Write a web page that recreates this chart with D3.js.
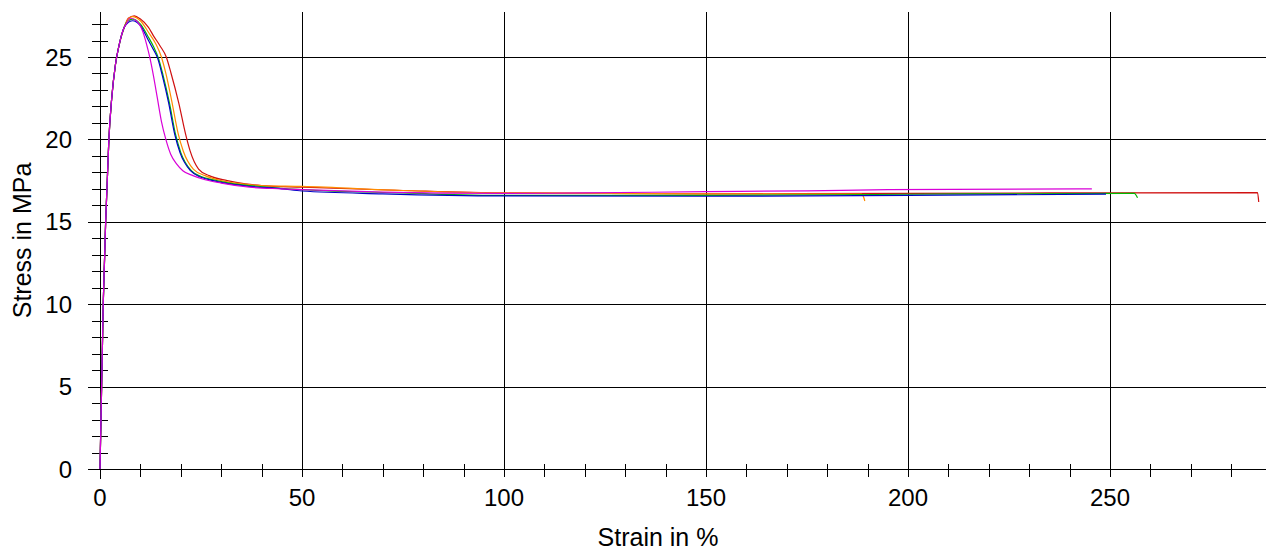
<!DOCTYPE html>
<html>
<head>
<meta charset="utf-8">
<script src="https://cdnjs.cloudflare.com/ajax/libs/d3/7.8.5/d3.min.js"></script>
<style>
  body { margin: 0; background: #fff; }
  text { font-family: Arial, "Liberation Sans", sans-serif; fill: #000; }
</style>
</head>
<body>
<div id="chart"></div>
<script>
// tick labels
var xTicks = [0, 50, 100, 150, 200, 250];
var yTicks = [0, 5, 10, 15, 20, 25];

// common initial rise (strain %, stress MPa)
var riseStrain = [0, 0.2, 0.4, 0.6, 0.8, 1.1, 1.4, 1.8, 2.2, 2.9, 3.8, 4.8, 6];
var riseStress = [0, 2.5, 5, 7.5, 10, 12.5, 15, 17.5, 20, 22.5, 24.5, 25.8, 26.8];

// specimen curves after the rise
var redStrain = [7, 8.5, 10, 12, 13.2, 14.8, 16.4, 17.6, 19.5, 21.2, 22.3, 24.4, 27, 31.5, 36, 40, 50, 75, 100, 150, 200, 250, 286.5, 286.8];
var redStress = [27.35, 27.5, 27.3, 26.8, 26.3, 25.7, 25.0, 24.0, 22.2, 20.3, 19.3, 18.2, 17.8, 17.5, 17.3, 17.2, 17.1, 16.9, 16.75, 16.7, 16.72, 16.76, 16.77, 16.2];

var orangeStrain = [7, 8, 10, 12, 13.8, 15.2, 16.3, 17.7, 19.3, 20.6, 23.1, 26, 30, 35, 40, 50, 75, 100, 150, 188.5, 189, 189.3];
var orangeStress = [27.3, 27.45, 27.2, 26.5, 25.8, 25.0, 24.0, 22.4, 20.4, 19.3, 18.2, 17.8, 17.5, 17.3, 17.2, 17.15, 16.9, 16.75, 16.7, 16.68, 16.5, 16.26];

var greenStrain = [7, 8, 10, 12, 13.3, 14.5, 15.6, 17.2, 18.7, 20, 22.6, 25, 28, 32, 37, 50, 75, 100, 150, 200, 256, 256.8];
var greenStress = [27.2, 27.3, 27.0, 26.2, 25.6, 24.9, 23.9, 22.2, 20.3, 19.2, 18.1, 17.75, 17.55, 17.35, 17.2, 16.95, 16.75, 16.6, 16.6, 16.67, 16.73, 16.46];

var blueStrain = [7, 8, 10, 12, 13.1, 14.3, 15.4, 17, 18.5, 19.8, 22.4, 25, 28, 32, 37, 45, 50, 70, 100, 150, 200, 249];
var blueStress = [27.1, 27.2, 26.9, 26.0, 25.5, 24.9, 23.9, 22.2, 20.3, 19.2, 18.1, 17.7, 17.5, 17.3, 17.15, 17.0, 16.87, 16.7, 16.57, 16.55, 16.6, 16.68];

var magentaStrain = [6.5, 7.5, 9, 10.5, 11.5, 12.3, 13.2, 14.2, 15.2, 16.3, 17.5, 19, 20.5, 23, 26, 30, 37, 45, 50, 70, 100, 120, 150, 175, 195, 245.5];
var magentaStress = [27.0, 27.35, 27.2, 26.6, 25.8, 25.0, 23.9, 22.5, 21.1, 20.0, 19.1, 18.5, 18.1, 17.8, 17.55, 17.35, 17.1, 17.0, 16.95, 16.8, 16.72, 16.75, 16.83, 16.88, 16.95, 17.0];

var seriesNames = ["red", "orange", "green", "blue", "magenta"];
var seriesColors = ["#d01010", "#ff8c00", "#00b800", "#0000c8", "#d800d8"];
var seriesStrain = [redStrain, orangeStrain, greenStrain, blueStrain, magentaStrain];
var seriesStress = [redStress, orangeStress, greenStress, blueStress, magentaStress];

// define svg area
var svgWidth = 1266;
var svgHeight = 550;

var margin = { top: 12, right: 0, bottom: 81, left: 100 };
var width = svgWidth - margin.left - margin.right;
var height = svgHeight - margin.top - margin.bottom;

var svg = d3.select("#chart")
  .append("svg")
  .attr("width", svgWidth)
  .attr("height", svgHeight);

var chartGroup = svg.append("g")
  .attr("transform", `translate(${margin.left}, ${margin.top})`);

var xScale = d3.scaleLinear().domain([0, 288.6]).range([0, width]);
var yScale = d3.scaleLinear().domain([0, 27.73]).range([height, 0]);

// grid lines
chartGroup.append("g")
  .selectAll("line")
  .data(yTicks)
  .enter()
  .append("line")
  .attr("x1", -12)
  .attr("x2", width)
  .attr("y1", d => Math.round(yScale(d)) + 0.5)
  .attr("y2", d => Math.round(yScale(d)) + 0.5)
  .attr("stroke", "#000")
  .attr("stroke-width", 1);

chartGroup.append("g")
  .selectAll("line")
  .data(xTicks)
  .enter()
  .append("line")
  .attr("x1", d => Math.round(xScale(d)) + 0.5)
  .attr("x2", d => Math.round(xScale(d)) + 0.5)
  .attr("y1", 0)
  .attr("y2", height + 8)
  .attr("stroke", "#000")
  .attr("stroke-width", 1);

// minor ticks
var yMinor = d3.range(1, 28).filter(d => d % 5 !== 0);
var xMinor = d3.range(10, 290, 10).filter(d => d % 50 !== 0);

chartGroup.append("g")
  .selectAll("line")
  .data(yMinor)
  .enter()
  .append("line")
  .attr("x1", -8)
  .attr("x2", 8)
  .attr("y1", d => Math.round(yScale(d)) + 0.5)
  .attr("y2", d => Math.round(yScale(d)) + 0.5)
  .attr("stroke", "#000");

chartGroup.append("g")
  .selectAll("line")
  .data(xMinor)
  .enter()
  .append("line")
  .attr("x1", d => Math.round(xScale(d)) + 0.5)
  .attr("x2", d => Math.round(xScale(d)) + 0.5)
  .attr("y1", height - 5)
  .attr("y2", height + 8)
  .attr("stroke", "#000");

// axis lines
chartGroup.append("line")
  .attr("x1", 0.5).attr("x2", 0.5)
  .attr("y1", 0).attr("y2", height + 10)
  .attr("stroke", "#000");
chartGroup.append("line")
  .attr("x1", -12).attr("x2", width)
  .attr("y1", height + 0.5).attr("y2", height + 0.5)
  .attr("stroke", "#000");

// curves
var line = d3.line()
  .curve(d3.curveMonotoneX)
  .x(d => xScale(d[0]))
  .y(d => yScale(d[1]));

seriesNames.forEach(function(name, i) {
  var pts = riseStrain.map((s, j) => [s, riseStress[j]])
    .concat(seriesStrain[i].map((s, j) => [s, seriesStress[i][j]]));
  chartGroup.append("path")
    .datum(pts)
    .attr("class", "curve-" + name)
    .attr("fill", "none")
    .attr("stroke", seriesColors[i])
    .attr("stroke-width", 1.2)
    .attr("d", line);
});

// tick labels
chartGroup.append("g")
  .selectAll("text")
  .data(yTicks)
  .enter()
  .append("text")
  .attr("x", -28)
  .attr("y", d => yScale(d))
  .attr("dy", "0.36em")
  .attr("text-anchor", "end")
  .style("font-size", "24px")
  .text(d => d);

chartGroup.append("g")
  .selectAll("text")
  .data(xTicks)
  .enter()
  .append("text")
  .attr("x", d => xScale(d))
  .attr("y", height + 37)
  .attr("text-anchor", "middle")
  .style("font-size", "24px")
  .text(d => d);

// axis titles
svg.append("text")
  .attr("x", 658)
  .attr("y", 546)
  .attr("text-anchor", "middle")
  .style("font-size", "25px")
  .text("Strain in %");

svg.append("text")
  .attr("transform", `translate(31, ${margin.top + height / 2}) rotate(-90)`)
  .attr("text-anchor", "middle")
  .style("font-size", "25px")
  .text("Stress in MPa");
</script>
</body>
</html>
